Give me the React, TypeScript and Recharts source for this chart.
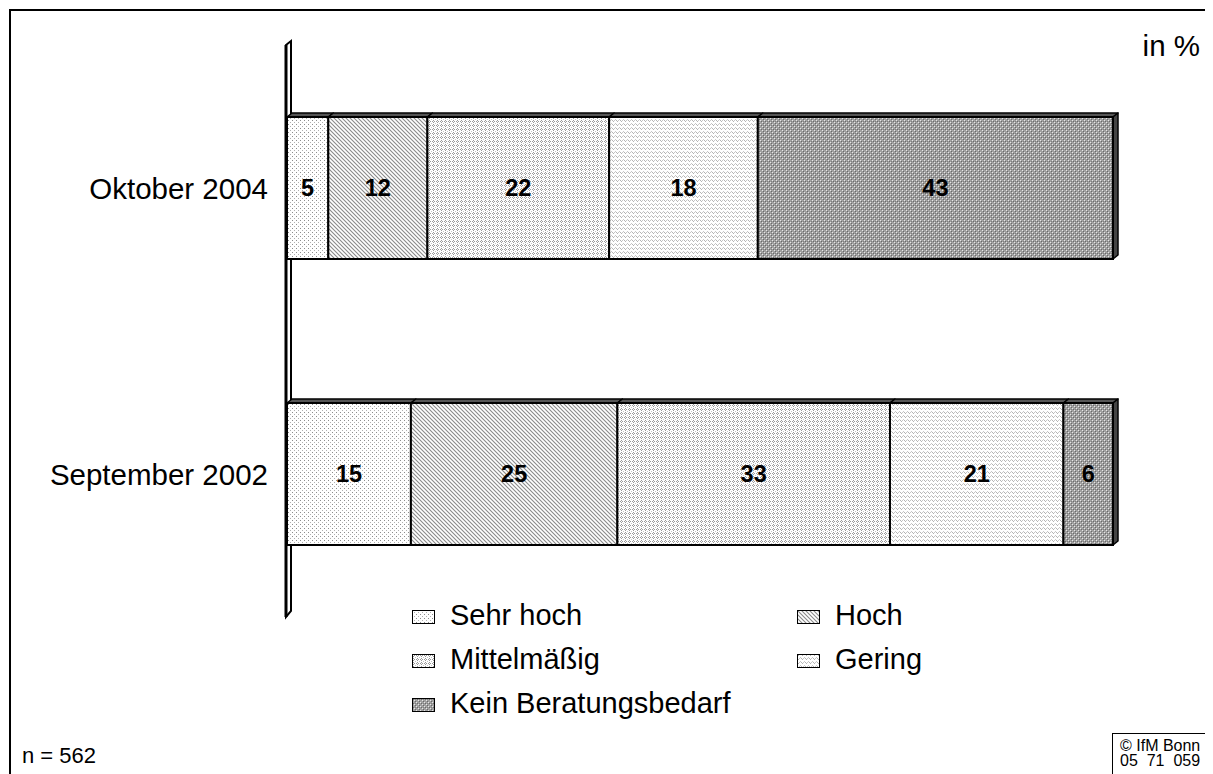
import { Bar, BarChart, LabelList, Legend, ReferenceLine, XAxis, YAxis } from 'recharts';

// Categories (rows) and stacked shares in %
const categories = ['Oktober 2004', 'September 2002'];
const sehrHoch = [5, 15];
const hoch = [12, 25];
const mittel = [22, 33];
const gering = [18, 21];
const keinBedarf = [43, 6];

const seriesKeys = ['sehr', 'hoch', 'mittel', 'gering', 'kein'];
const seriesNames = ['Sehr hoch', 'Hoch', 'Mittelmäßig', 'Gering', 'Kein Beratungsbedarf'];
const xDomain = [0, 100];

const data = categories.map((name, i) => ({
    name,
    sehr: sehrHoch[i],
    hoch: hoch[i],
    mittel: mittel[i],
    gering: gering[i],
    kein: keinBedarf[i]
}));

const FONT = "'Liberation Sans', Arial, Helvetica, sans-serif";
const DX = 5;
const DY = 4;

function Box3D(props: any) {
    const { x, y, width, height, fill, last } = props;
    if (width == null || height == null) return null;
    const top = `${x},${y} ${x + DX},${y - DY} ${x + width + DX},${y - DY} ${x + width},${y}`;
    const side = `${x + width},${y} ${x + width + DX},${y - DY} ${x + width + DX},${y + height - DY} ${x + width},${y + height}`;
    return (
        <g>
            <polygon points={top} fill="#555" stroke="#000" strokeWidth={1.5} strokeLinejoin="round" />
            {last && <polygon points={side} fill="#444" stroke="#000" strokeWidth={1.5} strokeLinejoin="round" />}
            <rect x={x} y={y} width={width} height={height} fill={fill} stroke="#000" strokeWidth={2} />
        </g>
    );
}

function Wall(props: any) {
    const { x1, x2, y1, y2 } = props;
    const X = Math.min(x1, x2);
    const t = Math.min(y1, y2);
    const b = Math.max(y1, y2);
    return (
        <g>
            <polygon
                points={`${X - 1},${t} ${X + 4},${t - 4} ${X + 4},${b - 6} ${X - 1},${b}`}
                fill="#fff"
                stroke="#000"
                strokeWidth={2}
            />
            <line x1={X - 1} y1={t} x2={X - 1} y2={b} stroke="#000" strokeWidth={3} />
        </g>
    );
}

function CategoryTick(props: any) {
    const { x, y, payload } = props;
    return (
        <text x={x} y={y} dy="0.36em" textAnchor="end" fontSize={29.5} fontFamily={FONT} fill="#000">
            {payload.value}
        </text>
    );
}

function renderLegend(props: any) {
    const items = [...(props.payload ?? [])].sort(
        (a: any, b: any) => seriesKeys.indexOf(a.dataKey) - seriesKeys.indexOf(b.dataKey)
    );
    return (
        <div style={{ display: 'grid', gridTemplateColumns: '385px 385px', gridAutoRows: '44px', fontFamily: FONT }}>
            {items.map((it: any) => (
                <div key={it.dataKey} style={{ display: 'flex', alignItems: 'center' }}>
                    <svg width={24} height={15} style={{ marginTop: 5 }}>
                        <rect x={0.5} y={0.5} width={22} height={13} fill={`url(#pat-${it.dataKey})`} stroke="#000" />
                    </svg>
                    <span style={{ marginLeft: 14, fontSize: 29, color: '#000' }}>{it.value}</span>
                </div>
            ))}
        </div>
    );
}

export default function App() {
    return (
        <div style={{ position: 'relative', width: 1205, height: 766, overflow: 'hidden', fontFamily: FONT }}>
            <style>{'body{overflow:hidden}'}</style>
            <svg width={0} height={0} style={{ position: 'absolute' }}>
                <defs>
                    <pattern id="pat-sehr" width={4} height={4} patternUnits="userSpaceOnUse">
                        <rect width={4} height={4} fill="#fff" />
                        <rect x={0} y={0} width={1} height={1} fill="#8c8c8c" />
                        <rect x={2} y={2} width={1} height={1} fill="#b0b0b0" />
                    </pattern>
                    <pattern id="pat-hoch" width={4} height={4} patternUnits="userSpaceOnUse">
                        <rect width={4} height={4} fill="#fff" />
                        <path d="M0,0 L4,4 M-1,3 L1,5 M3,-1 L5,1" stroke="#8a8a8a" strokeWidth={1.1} />
                    </pattern>
                    <pattern id="pat-mittel" width={4} height={4} patternUnits="userSpaceOnUse">
                        <rect width={4} height={4} fill="#fff" />
                        <rect x={1} y={0} width={1} height={1} fill="#9a9a9a" />
                        <rect x={0} y={1} width={1} height={1} fill="#9a9a9a" />
                        <rect x={2} y={1} width={1} height={1} fill="#9a9a9a" />
                        <rect x={1} y={2} width={1} height={1} fill="#9a9a9a" />
                        <rect x={3} y={3} width={1} height={1} fill="#c4c4c4" />
                    </pattern>
                    <pattern id="pat-gering" width={4} height={4} patternUnits="userSpaceOnUse">
                        <rect width={4} height={4} fill="#fff" />
                        <rect x={0} y={0} width={1} height={1} fill="#b4b4b4" />
                        <rect x={1} y={1} width={1} height={1} fill="#b4b4b4" />
                        <rect x={2} y={0} width={1} height={1} fill="#c8c8c8" />
                        <rect x={3} y={3} width={1} height={1} fill="#c8c8c8" />
                    </pattern>
                    <pattern id="pat-kein" width={4} height={4} patternUnits="userSpaceOnUse">
                        <rect width={4} height={4} fill="#a0a0a0" />
                        <rect x={0} y={0} width={1} height={1} fill="#e6e6e6" />
                        <rect x={2} y={2} width={1} height={1} fill="#e6e6e6" />
                        <rect x={1} y={1} width={1} height={1} fill="#6a6a6a" />
                        <rect x={3} y={3} width={1} height={1} fill="#6a6a6a" />
                        <rect x={3} y={1} width={1} height={1} fill="#808080" />
                    </pattern>
                </defs>
            </svg>
            <div
                style={{
                    position: 'absolute',
                    left: 1,
                    top: 1,
                    width: 1400,
                    height: 900,
                    borderLeft: '2px solid #000',
                    borderTop: '2px solid #000'
                }}
            />
            <BarChart
                width={1205}
                height={766}
                data={data}
                layout="vertical"
                margin={{ top: 37, right: 100, bottom: 157, left: 0 }}
                barSize={142}
            >
                <XAxis type="number" domain={xDomain} hide />
                <YAxis
                    type="category"
                    dataKey="name"
                    width={279}
                    axisLine={false}
                    tickLine={false}
                    tickSize={0}
                    tickMargin={19}
                    tick={<CategoryTick />}
                />
                <ReferenceLine x={0} zIndex={0} shape={(p: any) => <Wall {...p} />} />
                {seriesKeys.map((key, i) => (
                    <Bar
                        key={key}
                        dataKey={key}
                        name={seriesNames[i]}
                        stackId="a"
                        fill={`url(#pat-${key})`}
                        isAnimationActive={false}
                        shape={(p: any) => <Box3D {...p} last={key === 'kein'} />}
                    >
                        <LabelList
                            dataKey={key}
                            position="center"
                            fill="#000"
                            fontSize={23.5}
                            fontWeight="bold"
                            fontFamily={FONT}
                        />
                    </Bar>
                ))}
                <Legend
                    layout="horizontal"
                    verticalAlign="middle"
                    align="center"
                    content={renderLegend}
                    wrapperStyle={{ left: 404, top: 585, width: 800 }}
                />
            </BarChart>
            <div style={{ position: 'absolute', right: 13, top: 21, fontSize: 29.5, lineHeight: '34px' }}>in %</div>
            <div style={{ position: 'absolute', left: 14, top: 735, fontSize: 22, lineHeight: '26px' }}>n = 562</div>
            <div
                style={{
                    position: 'absolute',
                    left: 1104,
                    top: 725,
                    width: 200,
                    height: 100,
                    borderLeft: '1px solid #000',
                    borderTop: '1px solid #000',
                    paddingLeft: 7,
                    paddingTop: 4,
                    fontSize: 16,
                    lineHeight: '15px',
                    whiteSpace: 'pre'
                }}
            >
                {'© IfM Bonn\n05  71  059'}
            </div>
        </div>
    );
}
